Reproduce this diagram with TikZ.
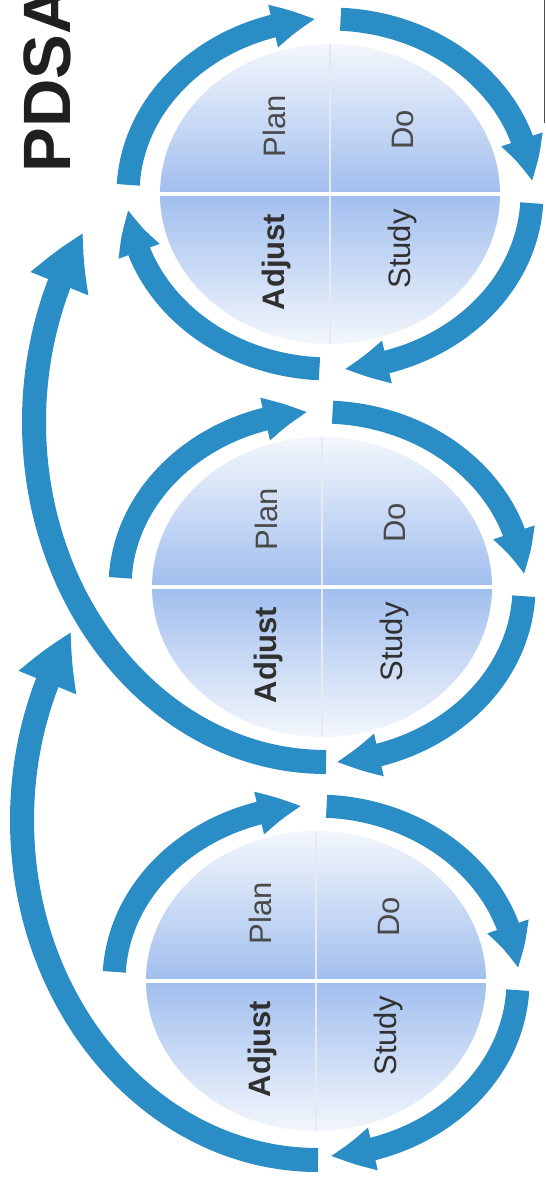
\documentclass[tikz,border=0pt]{standalone}
\usepackage{fontspec}
\setmainfont{Liberation Sans}
\usetikzlibrary{arrows.meta,bending}
\definecolor{ringblue}{HTML}{2A8DC6}
\definecolor{diskblue}{HTML}{A0BEEE}
\definecolor{disklight}{HTML}{F4F7FC}
\definecolor{divgray}{HTML}{E6EAF0}
\definecolor{txtgray}{HTML}{4A4A4A}
\definecolor{txtdark}{HTML}{303030}
\begin{document}
\begin{tikzpicture}[x=1pt,y=-1pt,
  ring/.style={draw=ringblue,line width=23pt},
  bigring/.style={draw=ringblue,line width=24pt},
  smallhead/.style={-{Triangle[length=44pt,width=40pt,bend]}},
  bighead/.style={-{Triangle[length=56pt,width=58pt,bend]}},
  lbl/.style={rotate=90,inner sep=0pt,font=\fontsize{31}{31}\selectfont,text=txtgray},
  lbldark/.style={lbl,text=txtdark},
]
\useasboundingbox (0,0) rectangle (546,1178);
\clip (0,0) rectangle (546,1178);
\fill[white] (0,0) rectangle (546,1178);

\coordinate (T) at (330,194);
\coordinate (M) at (322,587);
\coordinate (B) at (316,981);
\coordinate (cA) at (318,820);
\coordinate (cB) at (326,422);

% disks
\foreach \c in {T,M,B}{
  \begin{scope}
    \clip (\c) ellipse [x radius=170,y radius=150];
    \shade[top color=disklight,bottom color=diskblue] ([shift={(-171,-151)}]\c) rectangle ([shift={(171,0)}]\c);
    \shade[top color=diskblue,bottom color=disklight] ([shift={(-171,0)}]\c) rectangle ([shift={(171,151)}]\c);
    \draw[divgray,line width=2pt] ([shift={(0,-150)}]\c) -- ([shift={(0,150)}]\c);
    \draw[white,line width=4pt] ([shift={(-171,0)}]\c) -- ([shift={(171,0)}]\c);
  \end{scope}
  \node[lbl] (plan\c) at ([shift={(-56,-68)}]\c) {Plan};
  \node[lbl] (do\c) at ([shift={(73,-64)}]\c) {Do};
  \node[lbldark,font=\bfseries\fontsize{31}{31}\selectfont] (adjust\c) at ([shift={(-54,68)}]\c) {Adjust};
  \node[lbldark] (study\c) at ([shift={(72,55)}]\c) {Study};
}

% small cycle arrows
\foreach \c in {T,M,B}{
  \draw[ring,smallhead] ([shift={(183:202 and 175)}]\c) arc[start angle=183,end angle=266,x radius=202,y radius=175];
  \draw[ring,smallhead] ([shift={(273:202 and 175)}]\c) arc[start angle=273,end angle=356,x radius=202,y radius=175];
  \draw[ring,smallhead] ([shift={(3:202 and 175)}]\c) arc[start angle=3,end angle=86,x radius=202,y radius=175];
}
\draw[ring,smallhead] ([shift={(93:202 and 175)}]T) arc[start angle=93,end angle=175,x radius=202,y radius=175];

% big arrows between cycles
\draw[bigring,bighead] ([shift={(90:292 and 340)}]cB) arc[start angle=90,end angle=213.8,x radius=292,y radius=340];
\draw[bigring,bighead] ([shift={(90:296 and 340)}]cA) arc[start angle=90,end angle=213.6,x radius=296,y radius=340];

% title
\node[rotate=90,inner sep=0pt,font=\bfseries\fontsize{67}{67}\selectfont,text=black!88] (title) at (47,79) {PDSA};

% scan border line at top right
\draw[black!70,line width=1.5pt] (544.5,0) -- (544.5,123);
\end{tikzpicture}
\end{document}
